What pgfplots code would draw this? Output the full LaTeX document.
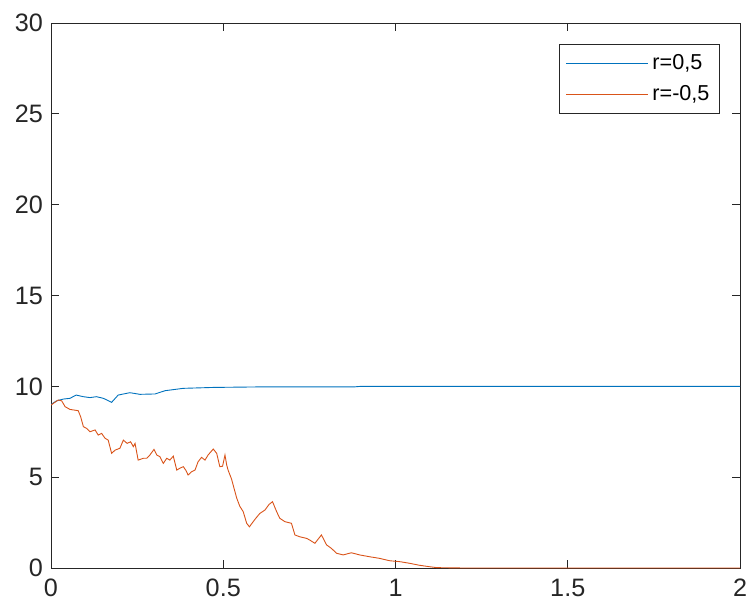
\documentclass[border=0pt]{standalone}
\usepackage{pgfplots}
\pgfplotsset{compat=1.18}
\usepackage{fontspec}
\setmainfont{Liberation Sans}
\definecolor{mblue}{rgb}{0,0.447,0.741}
\definecolor{morange}{rgb}{0.85,0.325,0.098}
\definecolor{axgray}{rgb}{0.15,0.15,0.15}
\begin{document}
\begin{tikzpicture}
\useasboundingbox (-25.5pt,-18.5pt) rectangle (348pt,284pt);
\begin{axis}[
  at={(0pt,0pt)}, anchor=south west,
  scale only axis,
  width=344.5pt, height=272.5pt,
  xmin=0, xmax=2, ymin=0, ymax=30,
  xtick={0,0.5,1,1.5,2},
  xticklabels={0,0.5,1,1.5,2},
  ytick={0,5,10,15,20,25,30},
  tick align=inside,
  major tick length=4pt,
  axis line style={axgray, line width=0.5pt},
  every tick/.style={axgray, line width=0.5pt},
  tick label style={font=\fontsize{12.6}{14}\selectfont, text=axgray},
  xticklabel shift=2pt,
  yticklabel shift=0.5pt,
  /pgf/number format/assume math mode=true,
  legend style={at={(1,1)}, xshift=-10pt, yshift=-10.5pt, anchor=north east, draw=axgray, line width=0.5pt,
    font=\fontsize{10.8}{12}\selectfont, row sep=2.5pt, inner xsep=3pt, inner ysep=3pt},
  legend cell align=left,
  legend image code/.code={\draw[#1] (0pt,0pt) -- (41pt,0pt);},
]
\addplot[mblue, line width=0.45pt] coordinates {
(0,9.0) (0.016,9.2) (0.036,9.3) (0.055,9.34) (0.073,9.52) (0.094,9.43) (0.113,9.38)
(0.132,9.43) (0.152,9.34) (0.176,9.12) (0.195,9.52) (0.229,9.65) (0.258,9.56)
(0.302,9.58) (0.331,9.76) (0.384,9.89) (0.471,9.94) (0.61,9.97) (0.88,9.97) (0.9,10.0) (2,10.0)
};
\addlegendentry{r=0,5}
\addplot[morange, line width=0.45pt] coordinates {
(0,8.97) (0.021,9.25) (0.031,9.2) (0.041,8.88) (0.055,8.73) (0.079,8.66) (0.086,8.33)
(0.094,7.78) (0.103,7.69) (0.113,7.5) (0.128,7.6) (0.137,7.32) (0.147,7.41) (0.157,7.14)
(0.166,7.04) (0.176,6.31) (0.186,6.49) (0.2,6.59) (0.21,7.04) (0.221,6.86) (0.231,6.95)
(0.239,6.68) (0.244,6.86) (0.253,5.94) (0.268,6.04) (0.278,6.04) (0.287,6.22) (0.299,6.53)
(0.307,6.22) (0.316,6.13) (0.326,5.76) (0.336,6.04) (0.345,5.94) (0.355,6.16) (0.365,5.39)
(0.374,5.49) (0.384,5.58) (0.391,5.39) (0.398,5.12) (0.408,5.3) (0.418,5.39) (0.427,5.85)
(0.437,6.09) (0.447,5.94) (0.456,6.22) (0.471,6.55) (0.481,6.31) (0.49,5.58) (0.498,5.6)
(0.505,6.22) (0.51,5.67) (0.514,5.39) (0.524,4.9) (0.539,3.85) (0.548,3.4) (0.558,3.1)
(0.568,2.46) (0.576,2.27) (0.592,2.68) (0.606,3.0) (0.621,3.19) (0.633,3.5) (0.643,3.65)
(0.655,3.1) (0.664,2.74) (0.679,2.55) (0.698,2.46) (0.708,1.82) (0.722,1.72) (0.742,1.63)
(0.751,1.54) (0.766,1.36) (0.785,1.82) (0.8,1.27) (0.814,1.08) (0.829,0.81) (0.848,0.72)
(0.872,0.84) (0.896,0.72) (0.925,0.62) (0.954,0.53) (0.983,0.4) (1.012,0.35) (1.041,0.26)
(1.07,0.15) (1.099,0.07) (1.12,0.02) (1.2,0.0) (2,0.0)
};
\addlegendentry{r=-0,5}
\end{axis}
\end{tikzpicture}
\end{document}
